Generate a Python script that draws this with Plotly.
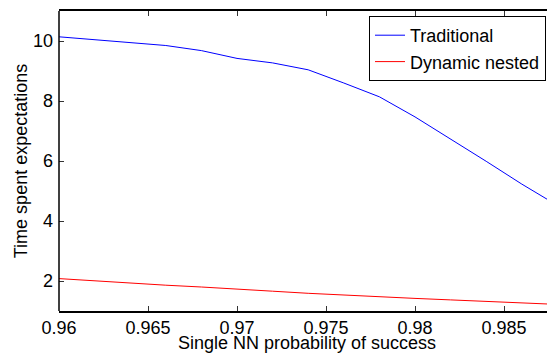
import plotly.graph_objects as go

# Data
success_prob = [0.960, 0.962, 0.964, 0.966, 0.968, 0.970, 0.972, 0.974,
                0.976, 0.978, 0.980, 0.982, 0.984, 0.986, 0.988]
traditional = [10.14, 10.04, 9.94, 9.85, 9.68, 9.42, 9.27, 9.04,
               8.60, 8.14, 7.47, 6.74, 5.99, 5.23, 4.52]
dynamic_nested = [2.08, 2.00, 1.93, 1.86, 1.80, 1.72, 1.66, 1.59,
                  1.53, 1.46, 1.42, 1.37, 1.32, 1.28, 1.22]
x_ticks = [0.96, 0.965, 0.97, 0.975, 0.98, 0.985]
x_tick_labels = ["0.96", "0.965", "0.97", "0.975", "0.98", "0.985"]
y_ticks = [2, 4, 6, 8, 10]

FONT = "Liberation Sans, Arial, sans-serif"

fig = go.Figure()
fig.add_trace(go.Scatter(x=success_prob, y=traditional, mode="lines",
                         name="Traditional",
                         line=dict(color="#0000ff", width=1)))
fig.add_trace(go.Scatter(x=success_prob, y=dynamic_nested, mode="lines",
                         name="Dynamic nested",
                         line=dict(color="#ff0000", width=1)))

# page body has an 8px margin, so the figure is 8px smaller than the window
OFF = 8
W, H = 555 - OFF, 353 - OFF
L, R, T, B = 59 - OFF, 0, 11 - OFF, 42
pw, ph = W - L - R, H - T - B

fig.update_layout(
    width=W, height=H,
    margin=dict(l=L, r=R, t=T, b=B, pad=0),
    paper_bgcolor="white", plot_bgcolor="white",
    font=dict(family=FONT, size=18, color="#000000"),
    showlegend=True,
    legend=dict(
        x=(546 - 59) / pw, xanchor="right",
        y=(311 - 16) / ph, yanchor="top",
        bgcolor="white", bordercolor="#000000", borderwidth=1,
        font=dict(family=FONT, size=18, color="#000000"),
        tracegroupgap=0,
    ),
    xaxis=dict(
        range=[0.96, 0.96 + pw / 17800],
        tickvals=x_ticks, ticktext=x_tick_labels,
        ticks="inside", ticklen=5, tickcolor="#333333", tickwidth=1,
        ticklabelstandoff=0,
        showline=True, linecolor="#000000", linewidth=1.5, mirror="ticks",
        showgrid=False, zeroline=False,
        title=dict(text="Single NN probability of success",
                   font=dict(family=FONT, size=18, color="#000000")),
        automargin=False,
    ),
    yaxis=dict(
        range=[1, 11],
        tickvals=y_ticks,
        ticks="inside", ticklen=5, tickcolor="#333333", tickwidth=1,
        ticklabelstandoff=5,
        showline=False, mirror="ticks",
        showgrid=False, zeroline=False,
        title=dict(text="Time spent expectations",
                   font=dict(family=FONT, size=18, color="#000000"),
                   standoff=0),
        automargin=True,
    ),
    shapes=[dict(type="line", xref="paper", yref="paper",
                 x0=0, x1=0, y0=0, y1=1,
                 line=dict(color="#000000", width=1.5), layer="above")],
)

fig.write_html("out.html")
